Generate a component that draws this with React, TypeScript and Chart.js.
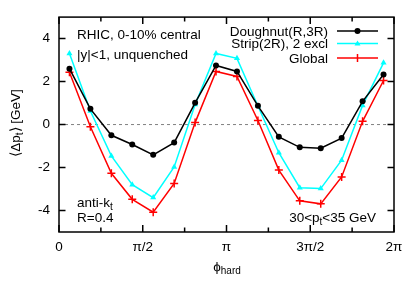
import React, { useEffect, useRef } from "react";
import { Chart, registerables } from "chart.js";

Chart.register(...registerables);

const phiCenters = [0.196, 0.589, 0.982, 1.374, 1.767, 2.16, 2.553, 2.945, 3.338, 3.731, 4.123, 4.516, 4.909, 5.301, 5.694, 6.087];
const doughnutVals = [2.6, 0.73, -0.5, -0.93, -1.41, -0.84, 1.01, 2.75, 2.47, 0.87, -0.57, -1.06, -1.1, -0.63, 1.08, 2.33];
const stripVals = [3.31, 0.63, -1.46, -2.8, -3.4, -1.97, 0.93, 3.31, 3.08, 0.86, -1.31, -2.94, -2.98, -1.66, 0.89, 2.87];
const globalVals = [2.43, -0.1, -2.27, -3.48, -4.08, -2.74, 0.09, 2.47, 2.24, 0.19, -2.12, -3.55, -3.69, -2.44, 0.15, 2.05];
const seriesNames = ["Doughnut(R,3R)", "Strip(2R), 2 excl", "Global"];
const seriesColors = ["#000000", "#00ffff", "#ff0000"];
const xTickValues = [0, 0.7854, 1.5708, 2.3562, 3.1416, 3.927, 4.7124, 5.4978, 6.2832];
const xTickLabels = ["0", "", "π/2", "", "π", "", "3π/2", "", "2π"];
const yTickValues = [-4, -2, 0, 2, 4];

const FONT = "Liberation Sans, Arial, Helvetica, sans-serif";

type Part = { t: string; sub?: boolean };

function drawRich(ctx: CanvasRenderingContext2D, parts: Part[], x: number, y: number, size: number, align: "left" | "right" | "center") {
  const subSize = Math.round(size * 0.75);
  const widths = parts.map((p) => {
    ctx.font = `${p.sub ? subSize : size}px ${FONT}`;
    return ctx.measureText(p.t).width;
  });
  const total = widths.reduce((a, b) => a + b, 0);
  let cx = align === "left" ? x : align === "right" ? x - total : x - total / 2;
  ctx.textAlign = "left";
  ctx.textBaseline = "alphabetic";
  parts.forEach((p, i) => {
    ctx.font = `${p.sub ? subSize : size}px ${FONT}`;
    ctx.fillText(p.t, cx, p.sub ? y + 3 : y);
    cx += widths[i];
  });
}

const framePlugin = {
  id: "framePlugin",
  beforeDatasetsDraw(chart: any) {
    const { ctx, chartArea } = chart;
    const y0 = chart.scales.y.getPixelForValue(0);
    ctx.save();
    ctx.strokeStyle = "#808080";
    ctx.lineWidth = 1;
    ctx.setLineDash([3, 3]);
    ctx.beginPath();
    ctx.moveTo(chartArea.left, y0);
    ctx.lineTo(chartArea.right, y0);
    ctx.stroke();
    ctx.restore();
  },
  afterDatasetsDraw(chart: any) {
    const { ctx, chartArea } = chart;
    const { left, right, top, bottom } = chartArea;
    ctx.save();
    ctx.strokeStyle = "#000";
    ctx.lineWidth = 1.5;
    ctx.setLineDash([]);
    ctx.strokeRect(left, top, right - left, bottom - top);
    ctx.beginPath();
    xTickValues.forEach((v, i) => {
      const px = chart.scales.x.getPixelForValue(v);
      const len = xTickLabels[i] ? 7 : 4.5;
      ctx.moveTo(px, bottom);
      ctx.lineTo(px, bottom - len);
      ctx.moveTo(px, top);
      ctx.lineTo(px, top + len);
    });
    yTickValues.forEach((v) => {
      const py = chart.scales.y.getPixelForValue(v);
      ctx.moveTo(left, py);
      ctx.lineTo(left + 6.5, py);
      ctx.moveTo(right, py);
      ctx.lineTo(right - 6.5, py);
    });
    ctx.stroke();
    ctx.restore();
  },
  afterDraw(chart: any) {
    const { ctx } = chart;
    ctx.save();
    ctx.fillStyle = "#000";
    const fs = 13.5;
    drawRich(ctx, [{ t: "RHIC, 0-10% central" }], 77, 39, fs, "left");
    drawRich(ctx, [{ t: "|y|<1, unquenched" }], 77, 59, fs, "left");
    drawRich(ctx, [{ t: "anti-k" }, { t: "t", sub: true }], 77, 207, fs, "left");
    drawRich(ctx, [{ t: "R=0.4" }], 77, 221.5, fs, "left");
    drawRich(ctx, [{ t: "30<p" }, { t: "t", sub: true }, { t: "<35 GeV" }], 376, 221.5, fs, "right");
    // x title
    drawRich(ctx, [{ t: "ϕ" }, { t: "hard", sub: true }], 227, 271, fs, "center");
    // y title
    ctx.save();
    ctx.translate(20, 123);
    ctx.rotate(-Math.PI / 2);
    drawRich(ctx, [{ t: "⟨Δp" }, { t: "t", sub: true }, { t: "⟩ [GeV]" }], 0, 0, fs, "center");
    ctx.restore();
    // legend
    const rows = [31, 43.5, 58];
    rows.forEach((ry, i) => {
      ctx.fillStyle = "#000";
      drawRich(ctx, [{ t: seriesNames[i] }], 328, ry + 4.5, fs, "right");
      ctx.strokeStyle = seriesColors[i];
      ctx.fillStyle = seriesColors[i];
      ctx.lineWidth = 1.5;
      ctx.beginPath();
      ctx.moveTo(337, ry);
      ctx.lineTo(378, ry);
      ctx.stroke();
      const mx = 357.5;
      if (i === 0) {
        ctx.beginPath();
        ctx.arc(mx, ry, 3, 0, Math.PI * 2);
        ctx.fill();
      } else if (i === 1) {
        ctx.beginPath();
        ctx.moveTo(mx, ry - 3);
        ctx.lineTo(mx + 3, ry + 2);
        ctx.lineTo(mx - 3, ry + 2);
        ctx.closePath();
        ctx.fill();
      } else {
        ctx.beginPath();
        ctx.moveTo(mx, ry - 4);
        ctx.lineTo(mx, ry + 4);
        ctx.stroke();
      }
    });
    ctx.restore();
  },
};

export default function App() {
  const ref = useRef<HTMLCanvasElement | null>(null);
  useEffect(() => {
    if (!ref.current) return;
    const mk = (vals: number[]) => vals.map((v, i) => ({ x: phiCenters[i], y: v }));
    const chart = new Chart(ref.current, {
      type: "line",
      data: {
        datasets: [
          {
            label: seriesNames[0],
            data: mk(doughnutVals),
            borderColor: seriesColors[0],
            backgroundColor: seriesColors[0],
            borderWidth: 1.5,
            pointStyle: "circle",
            pointRadius: 3,
            pointBorderWidth: 0,
          },
          {
            label: seriesNames[1],
            data: mk(stripVals),
            borderColor: seriesColors[1],
            backgroundColor: seriesColors[1],
            borderWidth: 1.5,
            pointStyle: "triangle",
            pointRadius: 3.5,
            pointBorderWidth: 0,
          },
          {
            label: seriesNames[2],
            data: mk(globalVals),
            borderColor: seriesColors[2],
            backgroundColor: seriesColors[2],
            borderWidth: 1.5,
            pointStyle: "cross",
            pointRadius: 4,
            pointBorderWidth: 1.5,
          },
        ],
      },
      options: {
        animation: false,
        responsive: false,
        maintainAspectRatio: false,
        layout: { padding: { top: 16, right: 21, left: 0, bottom: 0 } },
        plugins: { legend: { display: false }, tooltip: { enabled: false } },
        scales: {
          x: {
            type: "linear",
            min: 0,
            max: 2 * Math.PI,
            grid: { display: false, drawTicks: false },
            border: { display: false },
            afterBuildTicks: (s: any) => {
              s.ticks = xTickValues.map((v) => ({ value: v }));
            },
            afterFit: (s: any) => {
              s.height = 59;
            },
            ticks: {
              autoSkip: false,
              maxRotation: 0,
              padding: 7,
              color: "#000",
              font: { family: FONT, size: 13.5 },
              callback: (_v: any, i: number) => xTickLabels[i],
            },
          },
          y: {
            type: "linear",
            min: -5,
            max: 5,
            grid: { display: false, drawTicks: false },
            border: { display: false },
            afterBuildTicks: (s: any) => {
              s.ticks = yTickValues.map((v) => ({ value: v }));
            },
            afterFit: (s: any) => {
              s.width = 59;
            },
            ticks: {
              padding: 9,
              color: "#000",
              font: { family: FONT, size: 13.5 },
            },
          },
        },
      },
      plugins: [framePlugin],
    });
    return () => chart.destroy();
  }, []);
  return (
    <div style={{ position: "absolute", left: 0, top: 0, width: 415, height: 291, background: "#fff" }}>
      <canvas ref={ref} width={415} height={291} style={{ width: 415, height: 291 }} />
    </div>
  );
}
